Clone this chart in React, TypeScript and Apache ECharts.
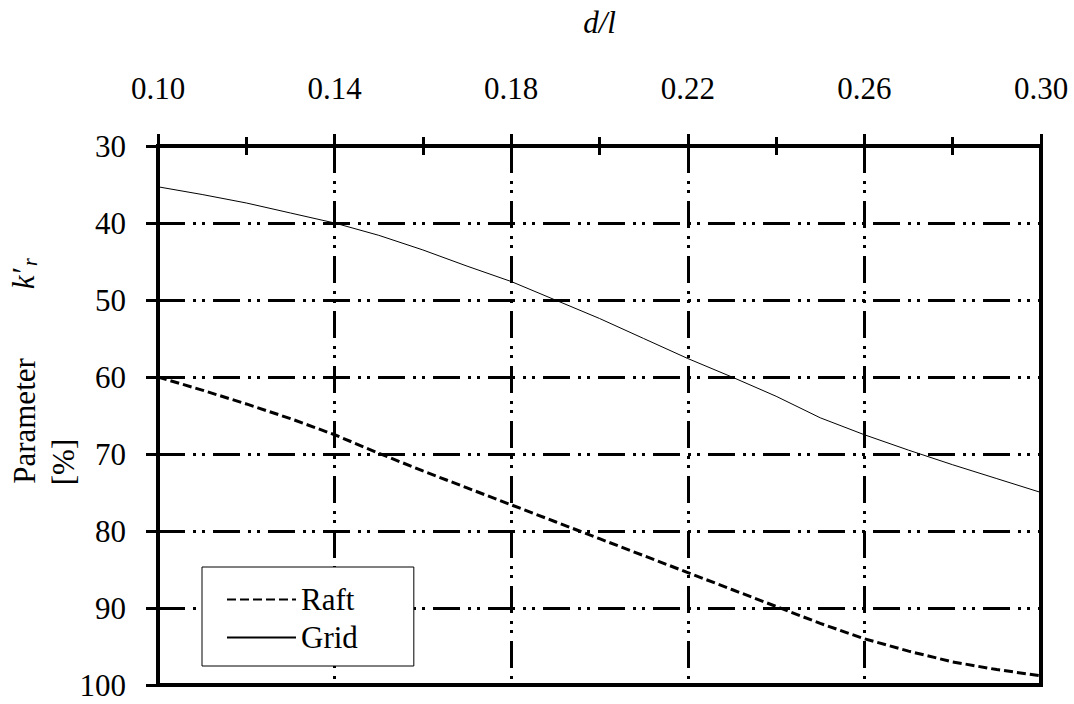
import React, { useEffect, useRef } from 'react';
import * as echarts from 'echarts';

const dl = [0.10, 0.11, 0.12, 0.13, 0.14, 0.15, 0.16, 0.17, 0.18, 0.19, 0.20, 0.21, 0.22, 0.23, 0.24, 0.25, 0.26, 0.27, 0.28, 0.29, 0.30];
const raft = [60.0, 61.7, 63.5, 65.4, 67.5, 69.9, 72.2, 74.4, 76.6, 78.8, 81.0, 83.2, 85.4, 87.6, 89.8, 92.0, 94.0, 95.6, 97.0, 98.0, 98.8];
const gridVals = [35.3, 36.3, 37.4, 38.7, 40.0, 41.6, 43.5, 45.6, 47.6, 50.0, 52.4, 55.0, 57.6, 60.0, 62.5, 65.3, 67.5, 69.5, 71.4, 73.2, 75.0];
const seriesNames = ['Raft', 'Grid'];
const xTitle = 'd/l';

const FONT = '"Liberation Serif", "Times New Roman", Times, serif';
const DASH = [27, 8, 3, 6, 3, 8];

export default function App() {
  const ref = useRef<HTMLDivElement>(null);
  useEffect(() => {
    const chart = echarts.init(ref.current!, null, { renderer: 'svg' });
    const option: any = {
      animation: false,
      backgroundColor: '#fff',
      textStyle: { fontFamily: FONT },
      grid: {
        left: 158, right: 33, top: 146, bottom: 19,
        show: true, borderColor: '#000', borderWidth: 4, backgroundColor: 'transparent',
      },
      xAxis: [
        {
          type: 'value', position: 'top', min: 0.1, max: 0.3, interval: 0.04,
          name: xTitle, nameLocation: 'middle', nameGap: 108,
          nameTextStyle: { fontSize: 31, fontStyle: 'italic', color: '#000', fontFamily: FONT },
          axisLine: { show: true, onZero: false, lineStyle: { color: '#000', width: 4 } },
          axisTick: { show: true, length: 12, lineStyle: { color: '#000', width: 3 } },
          minorTick: { show: true, splitNumber: 2, length: 9, lineStyle: { color: '#000', width: 3 } },
          axisLabel: { fontSize: 31, color: '#000', margin: 42, fontFamily: FONT, formatter: (v: number) => v.toFixed(2) },
          splitLine: { show: true, showMinLine: false, showMaxLine: false, lineStyle: { color: '#000', width: 3, type: DASH } },
        },
        {
          type: 'value', position: 'top', min: 0.1, max: 0.3, interval: 0.04,
          axisLine: { show: false, onZero: false },
          axisTick: { show: false, inside: true },
          minorTick: { show: true, splitNumber: 2, length: 9, lineStyle: { color: '#000', width: 3 } },
          axisLabel: { show: false },
          splitLine: { show: false },
        },
      ],
      yAxis: {
        type: 'value', inverse: true, min: 30, max: 100, interval: 10,
        axisLine: { show: true, onZero: false, lineStyle: { color: '#000', width: 4 } },
        axisTick: { show: true, length: 12, lineStyle: { color: '#000', width: 3 } },
        axisLabel: { fontSize: 31, color: '#000', margin: 32, fontFamily: FONT },
        splitLine: { show: true, showMinLine: false, showMaxLine: false, lineStyle: { color: '#000', width: 3, type: DASH } },
      },
      legend: {
        orient: 'vertical', left: 202, top: 567,
        padding: [17, 56, 13, 24],
        itemWidth: 69, itemHeight: 20, itemGap: 7,
        borderColor: '#000', borderWidth: 1, backgroundColor: '#fff',
        itemStyle: { opacity: 0 },
        textStyle: { fontSize: 31, color: '#000', fontFamily: FONT },
        data: seriesNames,
      },
      graphic: [
        { type: 'text', x: 24, y: 421, rotation: Math.PI / 2,
          style: { text: 'Parameter', fontSize: 31, fontFamily: FONT, fill: '#000', align: 'center', verticalAlign: 'middle' } },
        { type: 'text', x: 63, y: 462, rotation: Math.PI / 2,
          style: { text: '[%]', fontSize: 31, fontFamily: FONT, fill: '#000', align: 'center', verticalAlign: 'middle' } },
        { type: 'text', x: 23, y: 279, rotation: Math.PI / 2,
          style: { text: 'k\u2032', fontSize: 31, fontStyle: 'italic', fontFamily: FONT, fill: '#000', align: 'center', verticalAlign: 'middle' } },
        { type: 'text', x: 30, y: 262, rotation: Math.PI / 2,
          style: { text: 'r', fontSize: 20, fontStyle: 'italic', fontFamily: FONT, fill: '#000', align: 'center', verticalAlign: 'middle' } },
      ],
      series: [
        {
          name: seriesNames[0], type: 'line', xAxisIndex: 0, symbol: 'none',
          data: dl.map((x, i) => [x, raft[i]]),
          lineStyle: { color: '#000', width: 3, type: [9, 4] },
          itemStyle: { color: '#000' },
        },
        {
          name: seriesNames[1], type: 'line', xAxisIndex: 0, symbol: 'none',
          data: dl.map((x, i) => [x, gridVals[i]]),
          lineStyle: { color: '#000', width: 1 },
          itemStyle: { color: '#000' },
        },
      ],
    };
    chart.setOption(option);
    return () => chart.dispose();
  }, []);
  return <div ref={ref} style={{ position: 'fixed', left: 0, top: 0, width: 1074, height: 704, background: '#fff' }} />;
}
